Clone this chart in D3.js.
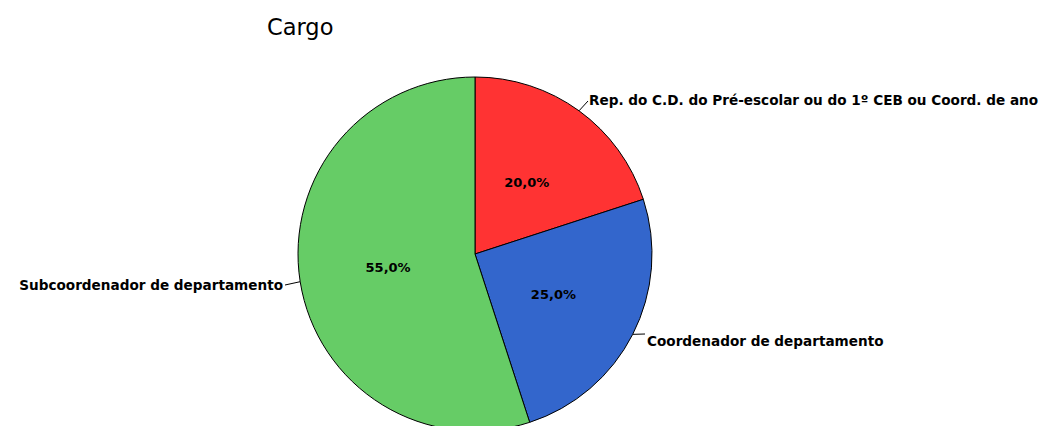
<!DOCTYPE html>
<html><head><meta charset="utf-8">
<script src="https://cdn.jsdelivr.net/npm/d3@7"></script>
<style>body{margin:0;background:#fff}svg{display:block}</style>
</head><body>
<svg id="c" width="1046" height="426"></svg>
<script>
const categories = ["Rep. do C.D. do Pré-escolar ou do 1º CEB ou Coord. de ano", "Coordenador de departamento", "Subcoordenador de departamento"];
const values = [20.0, 25.0, 55.0];
const colors = ["#FF3333", "#3366CC", "#66CC66"];
const title = "Cargo";

const svg = d3.select("#c");
const cx = 475, cy = 254, R = 177;
const font = "'DejaVu Sans', Verdana, sans-serif";

svg.append("text").attr("x", 267).attr("y", 35).attr("font-family", font)
  .attr("font-size", 22.5).attr("fill", "#000").text(title);

const pie = d3.pie().sort(null).value(d => d)(values);
const arc = d3.arc().innerRadius(0).outerRadius(R);
const g = svg.append("g").attr("transform", `translate(${cx},${cy})`);

g.selectAll("path").data(pie).join("path")
  .attr("d", arc).attr("fill", (d, i) => colors[i])
  .attr("stroke", "#000").attr("stroke-width", 1);

const fmt = v => d3.format(".1f")(v).replace(".", ",") + "%";
const inner = d3.arc().innerRadius(88).outerRadius(88);
g.selectAll("text.pct").data(pie).join("text").attr("class", "pct")
  .attr("transform", d => `translate(${inner.centroid(d)})`)
  .attr("text-anchor", "middle").attr("dy", "0.35em")
  .attr("font-family", font).attr("font-weight", "bold").attr("font-size", 13)
  .text(d => fmt(d.data));

// leader lines + labels
const edge = d3.arc().innerRadius(R).outerRadius(R);
const leaders = [
  {end: [113, -153], anchor: "start", tx: 114, ty: -149},
  {end: [170, 80], anchor: "start", tx: 172, ty: 92},
  {end: [-190, 31], anchor: "end", tx: -192, ty: 36}
];
pie.forEach((d, i) => {
  const p = edge.centroid(d);
  const L = leaders[i];
  g.append("line").attr("x1", p[0]).attr("y1", p[1]).attr("x2", L.end[0]).attr("y2", L.end[1])
    .attr("stroke", "#000").attr("stroke-width", 1);
  g.append("text").attr("x", L.tx).attr("y", L.ty).attr("text-anchor", L.anchor)
    .attr("font-family", font).attr("font-weight", "bold").attr("font-size", 13.6)
    .text(categories[i]);
});
</script>
</body></html>
